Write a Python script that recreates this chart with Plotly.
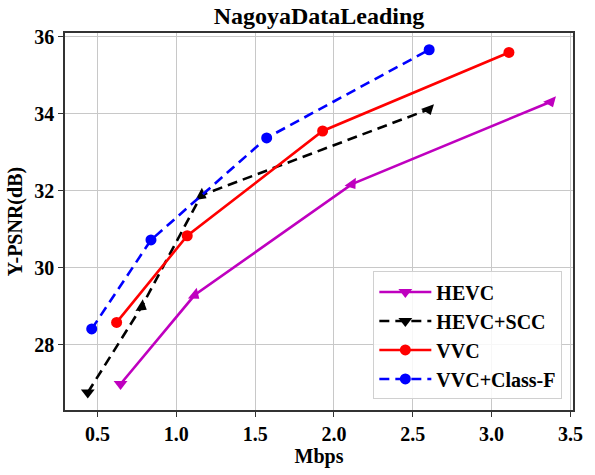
import plotly.graph_objects as go

hevc_x = [0.646, 1.116, 2.114, 3.375]
hevc_y = [26.98, 29.29, 32.17, 34.31]
scc_x = [0.438, 0.78, 1.158, 2.60]
scc_y = [26.76, 28.99, 31.88, 34.11]
vvc_x = [0.621, 1.069, 1.928, 3.11]
vvc_y = [28.58, 30.83, 33.55, 35.59]
vvcf_x = [0.463, 0.839, 1.573, 2.604]
vvcf_y = [28.41, 30.72, 33.37, 35.66]

x_ticks = [0.5, 1.0, 1.5, 2.0, 2.5, 3.0, 3.5]
y_ticks = [28, 30, 32, 34, 36]

FONT = "Liberation Serif"
fig = go.Figure()

series = [
    ("HEVC", hevc_x, hevc_y, "#bf00bf", "solid", "tri"),
    ("HEVC+SCC", scc_x, scc_y, "black", "10px,6px", "tri"),
    ("VVC", vvc_x, vvc_y, "#ff0000", "solid", "circle"),
    ("VVC+Class-F", vvcf_x, vvcf_y, "#0000ff", "10px,6px", "circle"),
]
for i, (name, xs, ys, col, dash, sym) in enumerate(series):
    line = dict(color=col, width=2.6, dash=dash)
    if sym == "circle":
        fig.add_trace(go.Scatter(
            x=xs, y=ys, name=name, mode="lines+markers", line=line,
            marker=dict(color=col, size=11, symbol="circle"),
            legendgroup=str(i)))
    else:
        # lines with direction-following triangle markers
        fig.add_trace(go.Scatter(
            x=xs, y=ys, name=name, mode="lines+markers", line=line,
            marker=dict(color=col, size=12, symbol="triangle-up",
                        angleref="previous", angle=90),
            legendgroup=str(i), showlegend=False))
        # first point (no previous direction): plain down triangle
        fig.add_trace(go.Scatter(
            x=xs[:1], y=ys[:1], mode="markers", showlegend=False,
            marker=dict(color=col, size=12, symbol="triangle-down"),
            legendgroup=str(i)))
        # legend entry
        fig.add_trace(go.Scatter(
            x=[None], y=[None], name=name, mode="lines+markers", line=line,
            marker=dict(color=col, size=12, symbol="triangle-down"),
            legendgroup=str(i)))

fig.update_layout(
    width=595, height=475,
    margin=dict(l=65, r=12, t=33, b=55),
    paper_bgcolor="white", plot_bgcolor="white",
    font=dict(family=FONT, color="black", size=20),
    title=dict(text="<b>NagoyaDataLeading</b>", x=0.5, xref="paper", xanchor="center",
               y=1 - 16 / 475, yref="container", yanchor="middle",
               font=dict(size=24, family=FONT, color="black")),
    showlegend=True,
    legend=dict(x=0.979, y=0.028, xanchor="right", yanchor="bottom",
                bgcolor="rgba(255,255,255,0.85)", bordercolor="#d0d0d0", borderwidth=1,
                font=dict(size=20, family=FONT, color="black", weight="bold"),
                tracegroupgap=0, itemwidth=52),
)
fig.update_xaxes(
    range=[0.2935, 3.5165], tickvals=x_ticks, ticktext=[f"<b>{v:.1f}</b>" for v in x_ticks],
    tickfont=dict(size=20),
    showgrid=True, gridcolor="#c8c8c8", gridwidth=1,
    showline=True, linecolor="#333333", linewidth=1.5, mirror=True,
    ticks="outside", ticklen=5, tickcolor="#333333", zeroline=False,
    title=dict(text="<b>Mbps</b>", standoff=4, font=dict(size=20, family=FONT)),
)
fig.update_yaxes(
    range=[26.305, 36.095], tickvals=y_ticks, ticktext=[f"<b>{v}</b>" for v in y_ticks],
    tickfont=dict(size=20),
    showgrid=True, gridcolor="#c8c8c8", gridwidth=1,
    showline=True, linecolor="#333333", linewidth=1.5, mirror=True,
    ticks="outside", ticklen=5, tickcolor="#333333", zeroline=False,
    title=dict(text="<b>Y-PSNR(dB)</b>", standoff=6, font=dict(size=20, family=FONT)),
)

fig.write_html("out.html")
